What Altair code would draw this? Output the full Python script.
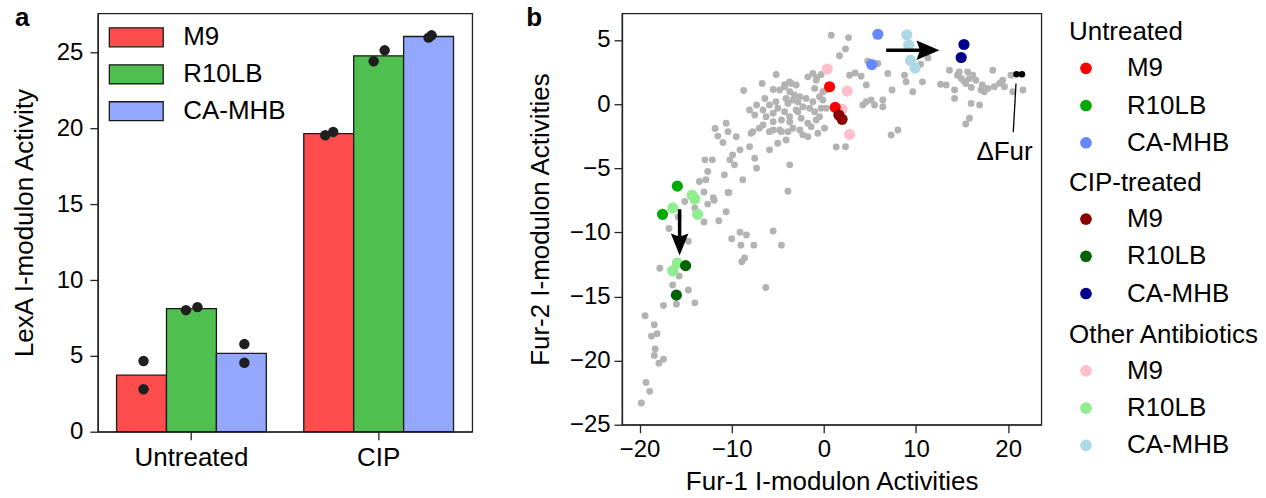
import altair as alt
import pandas as pd

FONT = "Liberation Sans"

# ---------------- panel a data ----------------
conditions = ["Untreated", "CIP"]
media = ["M9", "R10LB", "CA-MHB"]
bar_colors = ["#ff4d4d", "#4fc04f", "#93a7ff"]

rep_condition = ["Untreated"] * 6 + ["CIP"] * 6
rep_medium = ["M9", "M9", "R10LB", "R10LB", "CA-MHB", "CA-MHB"] * 2
rep_value = [4.66, 2.80, 8.02, 8.22, 5.78, 4.55,
             19.56, 19.78, 24.44, 25.16, 26.00, 26.15]
rep_jitter = [0.04, 0.04, -0.11, 0.12, 0.06, 0.06,
              -0.07, 0.09, -0.10, 0.12, 0.0, 0.06]

# ---------------- panel b data ----------------
gray_x = [0.8, 2.68, 2.35, 1.7, 4.77, 5.86, -1.74, -0.76, -1.0, -1.19, -0.83, -3.72, -3.0, -4.26,
          2.79, 3.4, 4.05, 4.6, 6.94, 7.4, 4.6, 5.13, 4.23, 6.4, 6.4, 5.5, 7.3, 8.03, 1.34, 2.35,
          8.75, 8.93, 9.65, 10.5, 11.3, 10.7, 12.66, 13.27, 13.63, 14.18, 14.18, 14.5, 14.9, 15.2,
          15.6, 15.8, 16.16, 16.5, 17.2, 17.06, 17.8, 18.33, 18.5, 19.06, 19.4, 19.6, 21.6, 20.3,
          20.5, 15.98, 16.9, 15.8, 15.4, 17.4, 14.7, 15.4, 16.0,
          -5.17, -6.7, -8.7, -5.5, -4.8, -4.26, -3.54, -6.4, -7.3, -5.9, -5.2, -3.7, -3.2, -4.1,
          -2.82, -1.92, -1.19, -0.47, -0.1, 0.25, -0.1, 0.25, -2.6, -3.36, -3.9, -2.28, -1.55,
          -2.82, -3.72, -2.46, -0.83, -1.38, -2.6, -3.9, -1.74, 0.07, -0.47, -8.06, -7.5, -6.6,
          -6.26, -5.5, -5.0, -4.26, -3.0, -1.0, -0.3, -5.5, -4.6, -3.7, -1.74, -6.6, -10.6, -10.4,
          -9.5, -7.9, -7.0, -5.5, -4.6, -3.36, -2.28, -0.65, -0.29, -7.7, -5.9, -4.8,
          -11.8, -11.5, -10.95, -4.1, -5.0, -5.9, -8.06, -9.1, -9.9, -10.2, -9.7, -7.5, -7.3, -3.7,
          -12.9, -12.1, -12.6, -13.5, -10.8, -8.8, -12.8, -13.0, -12.0, -10.3, -3.9, -12.6, -10.6,
          -11.4, -13.0, -15.1, -14.0, -15.8, -16.8, -14.7, -11.9, -10.4,
          -9.1, -8.4, -10.0, -9.0, -7.6, -5.5, -4.6, -8.6, -8.9, -6.3, -17.8, -15.7, -16.4, -14.7,
          -14.0, -16.0, -17.4, -19.4, -18.4, -18.1, -18.7, -18.3, -18.4, -17.4, -17.9, -19.3,
          -18.9, -19.8]
gray_y = [5.36, 5.18, 4.3, 3.77, 3.34, 3.16, 2.12, 2.07, 1.22, 2.38, 1.86, 1.73, 1.48, 1.35,
          2.25, 2.43, 2.17, 1.48, 2.38, 1.09, 0.18, 0.31, -0.08, 0.31, -0.21, -0.08, -2.41, -2.02,
          -3.35, -3.32, 2.25, 1.73, 0.96, 3.1, 3.6, 1.73, 1.55, 1.48, 2.64, 1.09, 0.44, 2.25, 2.0,
          1.8, 2.51, 2.0, 2.25, 1.86, 1.48, 1.09, 1.22, 2.64, 1.35, 1.61, 1.86, 1.35, 1.09, 2.25,
          0.96, 0.05, -0.08, -1.11, -1.55, 0.96, 2.51, 1.6, 1.3,
          2.3, 1.6, 1.06, 1.14, 1.09, 1.5, 1.6, 0.44, -0.08, -0.08, 0.18, 0.96, 0.7, 0.44,
          0.18, 0.44, 0.18, 0.57, 0.96, 1.09, 0.31, -0.33, 0.57, 0.31, 0.05, -0.21, -0.33,
          -0.6, -0.98, -1.11, -1.24, -1.76, -2.02, -2.15, -2.54, -1.89, -0.98, -0.47, -0.85, -0.47,
          -0.98, -0.72, -0.33, -0.6, -0.47, -0.6, -0.33, -1.37, -1.24, -1.4, -1.5, -1.63, -1.5, -2.15,
          -2.54, -2.28, -1.89, -2.02, -2.15, -1.89, -2.4, -2.28, 2.3, -2.15, -2.15, -2.02,
          -1.9, -2.5, -3.0, -2.8, -3.05, -3.57, -3.32, -3.57, -3.96, -4.35, -4.74, -4.22, -5.0, -4.74,
          -4.35, -4.35, -5.26, -6.04, -5.52, -5.9, -5.9, -6.85, -7.3, -6.9, -6.8, -7.8, -8.4,
          -9.1, -9.2, -7.6, -8.1, -8.8, -9.7, -10.7, -7.5, -6.9,
          -10.0, -10.2, -10.5, -11.0, -11.0, -9.9, -11.0, -12.0, -12.3, -14.3, -12.8, -13.4, -14.1,
          -14.5, -15.5, -15.6, -15.7, -16.5, -17.2, -17.9, -18.1, -19.1, -19.6, -19.9, -20.2, -21.7,
          -22.4, -23.3]

groups = ["Untreated", "CIP-treated", "Other Antibiotics"]
group_colors = {
    "Untreated": ["#ff0000", "#00aa00", "#6688ff"],
    "CIP-treated": ["#8b0000", "#006400", "#00008b"],
    "Other Antibiotics": ["#ffc0cb", "#90ee90", "#add8e6"],
}
pt_group = (["Untreated"] * 6 + ["CIP-treated"] * 6 + ["Other Antibiotics"] * 14)
pt_medium = (["M9", "M9", "R10LB", "R10LB", "CA-MHB", "CA-MHB"] * 2 +
             ["M9"] * 4 + ["R10LB"] * 6 + ["CA-MHB"] * 4)
pt_x = [0.62, 1.23, -15.9, -17.5, 5.86, 5.2,
        1.63, 1.98, -15.0, -16.0, 15.2, 14.9,
        0.36, 2.53, 1.98, 2.79,
        -16.4, -14.3, -14.0, -13.7, -15.9, -16.4,
        9.0, 9.2, 9.4, 9.9]
pt_y = [1.35, -0.26, -6.4, -8.6, 5.44, 3.08,
        -0.85, -1.19, -12.6, -14.9, 4.64, 3.63,
        2.72, 1.01, -0.41, -2.36,
        -8.1, -7.1, -7.4, -8.6, -12.4, -13.0,
        5.4, 4.6, 3.4, 2.8]

fur_x = [20.9, 21.5]
fur_y = [2.33, 2.33]
fur_line_x = [20.85]
fur_line_x2 = [20.55]
fur_line_y = [1.6]
fur_line_y2 = [-2.2]
fur_text = ["\u0394Fur"]
fur_text_x = [19.6]
fur_text_y = [-4.35]

shaft_x = [-15.65, 6.76]
shaft_x2 = [-15.65, 11.0]
shaft_y = [-8.2, 4.2]
shaft_y2 = [-10.6, 4.2]
head_down_x = [-15.65]
head_down_y = [-10.95]
head_right_x = [11.3]
head_right_y = [4.2]

X_DOMAIN = [-21.9, 23.6]
Y_DOMAIN = [-25, 7.07]

# ---------------- panel a ----------------
rep_df = pd.DataFrame({
    "Condition": rep_condition,
    "Medium": rep_medium,
    "Value": rep_value,
    "Pos": [media.index(m) + 0.5 + j for m, j in zip(rep_medium, rep_jitter)],
})

AX = dict(titleFontSize=26, tickSize=8, tickWidth=1.3,
          domainWidth=1.3, domainColor="#222222", tickColor="#222222",
          labelColor="black", titleColor="black", grid=False,
          titleFontWeight="normal", labelFont=FONT, titleFont=FONT)

bars = alt.Chart(rep_df).mark_bar(stroke="#1a1a1a", strokeWidth=1.3, opacity=1).encode(
    x=alt.X("Condition:N", sort=conditions,
            scale=alt.Scale(paddingInner=0.2, paddingOuter=0.1),
            axis=alt.Axis(title=None, labelAngle=0, labelFontSize=26, labelPadding=5, **AX)),
    xOffset=alt.XOffset("Medium:N", sort=media, scale=alt.Scale(paddingInner=0, paddingOuter=0)),
    y=alt.Y("mean(Value):Q", scale=alt.Scale(domain=[0, 27.6], nice=False, zero=True),
            axis=alt.Axis(title="LexA I-modulon Activity", values=[0, 5, 10, 15, 20, 25],
                          labelFontSize=24, labelPadding=7, titlePadding=19, **AX)),
    color=alt.Color("Medium:N", sort=media,
                    scale=alt.Scale(domain=media, range=bar_colors),
                    legend=alt.Legend(title=None, orient="none", legendX=8, legendY=11,
                                      symbolType="M-2.84,-1L2.84,-1L2.84,1L-2.84,1Z",
                                      symbolSize=361, symbolStrokeColor="#1a1a1a",
                                      symbolStrokeWidth=1.3, symbolOffset=17.5,
                                      labelOffset=34, labelFontSize=26, labelFont=FONT,
                                      labelColor="black", rowPadding=11, padding=0)),
)

dots = alt.Chart(rep_df).mark_circle(size=110, color="#1f1f1f", opacity=1).encode(
    x=alt.X("Condition:N", sort=conditions),
    xOffset=alt.XOffset("Pos:Q", scale=alt.Scale(domain=[0, 3])),
    y=alt.Y("Value:Q"),
)

label_a = alt.Chart(pd.DataFrame({"t": ["a"]})).mark_text(
    fontSize=26, fontWeight="bold", font=FONT, align="left", baseline="alphabetic", color="black"
).encode(text="t:N", x=alt.value(-83), y=alt.value(12.3))

left = alt.layer(bars, dots, label_a).resolve_scale(xOffset="independent").properties(
    width=375, height=419)

# ---------------- panel b ----------------
gray_df = pd.DataFrame({"x": gray_x, "y": gray_y})
pts_df = pd.DataFrame({"Group": pt_group, "Medium": pt_medium, "x": pt_x, "y": pt_y})

xenc = alt.X("x:Q", scale=alt.Scale(domain=X_DOMAIN, nice=False, zero=False),
             axis=alt.Axis(title="Fur-1 I-modulon Activities", values=[-20, -10, 0, 10, 20],
                           labelFontSize=24, labelPadding=5, titlePadding=7, **AX))
yenc = alt.Y("y:Q", scale=alt.Scale(domain=Y_DOMAIN, nice=False, zero=False),
             axis=alt.Axis(title="Fur-2 I-modulon Activities", values=[-25, -20, -15, -10, -5, 0, 5],
                           labelFontSize=24, labelPadding=4, titlePadding=16, **AX))

gray = alt.Chart(gray_df).mark_circle(size=48, color="#b3b3b3", opacity=1).encode(x=xenc, y=yenc)

fur = alt.Chart(pd.DataFrame({"x": fur_x, "y": fur_y})).mark_circle(
    size=42, color="black", opacity=1).encode(x="x:Q", y="y:Q")

legend_y = {"Untreated": 6, "CIP-treated": 157, "Other Antibiotics": 309}

def group_layer(g):
    return alt.Chart(pts_df[pts_df.Group == g]).mark_circle(size=125, opacity=1).encode(
        x="x:Q", y="y:Q",
        color=alt.Color("Medium:N", sort=media,
                        scale=alt.Scale(domain=media, range=group_colors[g]),
                        legend=alt.Legend(title=g, orient="none", legendX=447.7,
                                          legendY=legend_y[g], symbolType="circle",
                                          symbolSize=137, symbolOffset=4, labelOffset=28,
                                          labelFontSize=26, titleFontSize=26,
                                          titleFontWeight="normal", titleColor="black",
                                          labelColor="black", labelFont=FONT, titleFont=FONT,
                                          titleLimit=400, labelLimit=400,
                                          rowPadding=11.3, titlePadding=10, padding=0)),
    )

other_l = group_layer("Other Antibiotics")
untr_l = group_layer("Untreated")
cip_l = group_layer("CIP-treated")

shafts = alt.Chart(pd.DataFrame({"x": shaft_x, "x2": shaft_x2, "y": shaft_y, "y2": shaft_y2})).mark_rule(
    color="black", strokeWidth=3.5).encode(x="x:Q", x2="x2:Q", y="y:Q", y2="y2:Q")

head_down = alt.Chart(pd.DataFrame({"x": head_down_x, "y": head_down_y})).mark_point(
    shape="M0,1L-0.8,-1L0,-0.7L0.8,-1Z", size=484, filled=True, color="black", opacity=1,
    strokeWidth=0).encode(x="x:Q", y="y:Q")
head_right = alt.Chart(pd.DataFrame({"x": head_right_x, "y": head_right_y})).mark_point(
    shape="M1,0L-1,-0.85L-0.7,0L-1,0.85Z", size=529, filled=True, color="black", opacity=1,
    strokeWidth=0).encode(x="x:Q", y="y:Q")

fur_line = alt.Chart(pd.DataFrame({"x": fur_line_x, "x2": fur_line_x2, "y": fur_line_y,
                                   "y2": fur_line_y2})).mark_rule(color="black", strokeWidth=1.3).encode(
    x="x:Q", x2="x2:Q", y="y:Q", y2="y2:Q")
fur_lab = alt.Chart(pd.DataFrame({"t": fur_text, "x": fur_text_x, "y": fur_text_y})).mark_text(
    fontSize=26, font=FONT, align="center", baseline="alphabetic", color="black").encode(
    x="x:Q", y="y:Q", text="t:N")

label_b = alt.Chart(pd.DataFrame({"t": ["b"]})).mark_text(
    fontSize=26, fontWeight="bold", font=FONT, align="left", baseline="alphabetic", color="black"
).encode(text="t:N", x=alt.value(-96), y=alt.value(12.3))

right = alt.layer(gray, fur, other_l, untr_l, cip_l, shafts, head_down, head_right,
                  fur_line, fur_lab, label_b).resolve_scale(color="independent").properties(
    width=420, height=412)

chart = alt.hconcat(left, right, spacing=52).resolve_scale(color="independent").properties(
    padding={"left": 10, "top": 3, "right": 5, "bottom": 0}
).configure(font=FONT).configure_view(stroke="#222222", strokeWidth=1.3)

chart.save("out.html", embed_options={"renderer": "svg", "actions": False})
